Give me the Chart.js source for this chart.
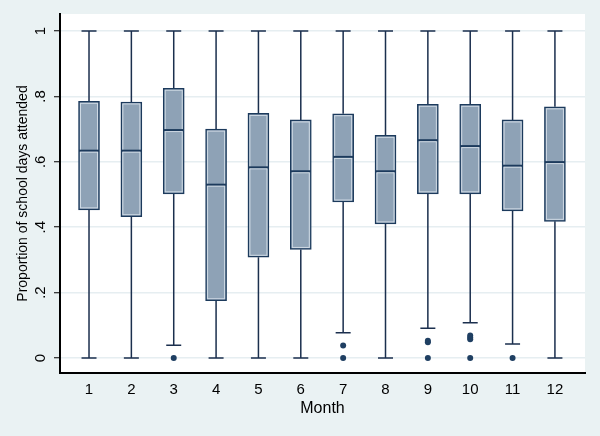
<!DOCTYPE html>
<html>
<head>
<meta charset="utf-8">
<script src="https://cdn.jsdelivr.net/npm/chart.js@4"></script>
<style>
  html, body { margin: 0; padding: 0; background: #eaf2f3; }
  canvas { display: block; }
</style>
</head>
<body>
<canvas id="boxChart" width="600" height="436"></canvas>
<script>
// Months on the x axis
const months = ['1', '2', '3', '4', '5', '6', '7', '8', '9', '10', '11', '12'];
// y tick labels (Stata style)
const yTickValues = [0, 0.2, 0.4, 0.6, 0.8, 1];
const yTickLabels = ['0', '.2', '.4', '.6', '.8', '1'];

// box plot statistics per month
const lowerWhisker = [0, 0, 0.039, 0, 0, 0, 0.077, 0, 0.091, 0.108, 0.043, 0];
const q1 = [0.453, 0.432, 0.502, 0.175, 0.308, 0.332, 0.477, 0.410, 0.502, 0.502, 0.450, 0.418];
const median = [0.634, 0.634, 0.697, 0.530, 0.583, 0.571, 0.615, 0.571, 0.666, 0.648, 0.588, 0.599];
const q3 = [0.785, 0.783, 0.825, 0.700, 0.748, 0.728, 0.747, 0.681, 0.776, 0.776, 0.728, 0.768];
const upperWhisker = [1, 1, 1, 1, 1, 1, 1, 1, 1, 1, 1, 1];

// outside values
const outlierMonth = [3, 7, 7, 9, 9, 9, 10, 10, 10, 10, 11];
const outlierValue = [0, 0.038, 0, 0.048, 0.053, 0, 0.057, 0.063, 0.069, 0, 0];

const lineColor = '#1b2f4e';
const boxFill = '#8ea2b6';
const boxEdge = '#1c3a5c';

// whiskers, caps, medians and the y tick labels (rotated like Stata)
const boxExtras = {
  id: 'boxExtras',
  beforeDraw(chart) {
    const { ctx, chartArea } = chart;
    ctx.save();
    ctx.fillStyle = '#ffffff';
    ctx.fillRect(chartArea.left, chartArea.top, chartArea.right - chartArea.left, chartArea.bottom - chartArea.top);
    ctx.restore();
  },
  beforeDatasetsDraw(chart) {
    const { ctx } = chart;
    const x = chart.scales.x, y = chart.scales.y;
    ctx.save();
    ctx.strokeStyle = lineColor;
    ctx.lineWidth = 1.5;
    months.forEach((m, i) => {
      const px = x.getPixelForValue(i + 1);
      ctx.beginPath();
      ctx.moveTo(px, y.getPixelForValue(upperWhisker[i]));
      ctx.lineTo(px, y.getPixelForValue(q3[i]));
      ctx.moveTo(px, y.getPixelForValue(q1[i]));
      ctx.lineTo(px, y.getPixelForValue(lowerWhisker[i]));
      // caps
      [upperWhisker[i], lowerWhisker[i]].forEach(v => {
        const py = y.getPixelForValue(v);
        ctx.moveTo(px - 7.5, py);
        ctx.lineTo(px + 7.5, py);
      });
      ctx.stroke();
    });
    ctx.restore();
  },
  afterDatasetsDraw(chart) {
    const { ctx } = chart;
    const x = chart.scales.x, y = chart.scales.y;
    ctx.save();
    months.forEach((m, i) => {
      const px = x.getPixelForValue(i + 1);
      const top = y.getPixelForValue(q3[i]);
      const bot = y.getPixelForValue(q1[i]);
      // light inner edge of the box
      ctx.strokeStyle = 'rgba(225,232,240,0.8)';
      ctx.lineWidth = 1;
      ctx.strokeRect(px - 8.5, top + 2, 17, bot - top - 4);
      // median
      const pm = y.getPixelForValue(median[i]);
      ctx.fillStyle = boxEdge;
      ctx.fillRect(px - 10, pm - 1, 20, 2);
      ctx.fillStyle = 'rgba(225,232,240,0.8)';
      ctx.fillRect(px - 8.5, pm + 1, 17, 1);
    });
    // y tick labels
    ctx.fillStyle = '#000';
    ctx.font = '15px "Liberation Sans", Arial, sans-serif';
    ctx.textAlign = 'center';
    ctx.textBaseline = 'alphabetic';
    yTickValues.forEach((v, i) => {
      ctx.save();
      ctx.translate(45, y.getPixelForValue(v));
      ctx.rotate(-Math.PI / 2);
      ctx.fillText(yTickLabels[i], 0, 0);
      ctx.restore();
    });
    ctx.restore();
  }
};

new Chart(document.getElementById('boxChart'), {
  type: 'bar',
  data: {
    datasets: [
      {
        type: 'bar',
        data: months.map((m, i) => ({ x: i + 1, y: [q1[i], q3[i]] })),
        backgroundColor: boxFill,
        borderColor: boxEdge,
        borderWidth: 1.5,
        borderSkipped: false,
        barThickness: 21,
        grouped: false,
        order: 2
      },
      {
        type: 'scatter',
        data: outlierMonth.map((m, i) => ({ x: m, y: outlierValue[i] })),
        backgroundColor: '#1f3f62',
        borderColor: '#1f3f62',
        pointRadius: 3,
        pointBorderWidth: 0,
        order: 1
      }
    ]
  },
  options: {
    responsive: false,
    animation: false,
    devicePixelRatio: 1,
    layout: { padding: { left: 0, top: 14, right: 15, bottom: 0 } },
    plugins: { legend: { display: false }, tooltip: { enabled: false } },
    scales: {
      x: {
        type: 'linear',
        min: 0.315,
        max: 12.71,
        offset: false,
        afterBuildTicks: s => { s.ticks = months.map((m, i) => ({ value: i + 1 })); },
        afterFit: s => { s.height = 63; },
        ticks: {
          callback: (v) => months[v - 1],
          color: '#000',
          font: { family: '"Liberation Sans", Arial, sans-serif', size: 15 },
          padding: 8,
          maxRotation: 0,
          autoSkip: false
        },
        grid: { display: false, drawTicks: false, tickLength: 0 },
        border: { color: '#000', width: 2 },
        title: {
          display: true,
          text: 'Month',
          color: '#000',
          font: { family: '"Liberation Sans", Arial, sans-serif', size: 16 },
          padding: { top: 0, bottom: 17.5 }
        }
      },
      y: {
        min: -0.0459,
        max: 1.052,
        afterBuildTicks: s => { s.ticks = yTickValues.map(v => ({ value: v })); },
        afterFit: s => { s.width = 60; },
        ticks: { display: false },
        grid: { color: '#e6eef1', lineWidth: 1.5, tickColor: '#000', tickLength: 6, tickWidth: 1 },
        border: { color: '#000', width: 2 },
        title: {
          display: true,
          text: 'Proportion of school days attended',
          color: '#000',
          font: { family: '"Liberation Sans", Arial, sans-serif', size: 14 },
          padding: { top: 15, bottom: 0 }
        }
      }
    }
  },
  plugins: [boxExtras]
});
</script>
</body>
</html>
